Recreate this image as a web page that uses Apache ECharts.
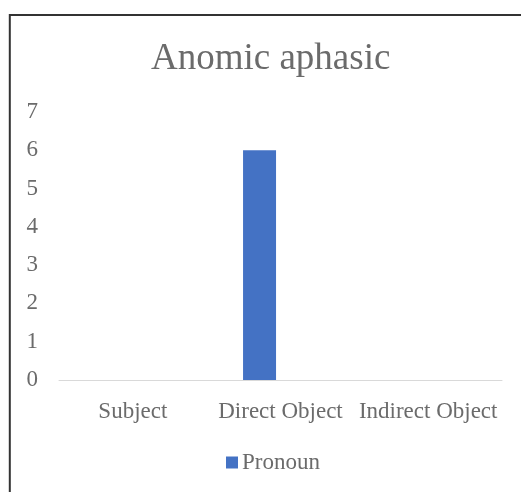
<!DOCTYPE html>
<html>
<head>
<meta charset="utf-8">
<script src="https://cdn.jsdelivr.net/npm/echarts@6/dist/echarts.min.js"></script>
<style>
  html, body { margin: 0; padding: 0; background: #fff; }
  #chart { width: 521px; height: 492px; }
</style>
</head>
<body>
<div id="chart"></div>
<script>
// data
var categories = ['Subject', 'Direct Object', 'Indirect Object'];
var pronoun = [0, 6, 0];
// the original reserves room for a second (empty) series in each category
var emptySeries = [null, null, null];
var yTicks = [0, 1, 2, 3, 4, 5, 6, 7];

var font = 'Liberation Serif';
var textColor = '#6b6b6b';

var chart = echarts.init(document.getElementById('chart'));

var option = {
  animation: false,
  backgroundColor: '#fff',
  graphic: [{
    type: 'rect',
    shape: { x: 9.8, y: 15, width: 1000, height: 1000 },
    style: { fill: 'none', stroke: '#333', lineWidth: 2 },
    silent: true
  }],
  title: {
    text: 'Anomic aphasic',
    left: 146,
    top: 36,
    textStyle: { fontFamily: font, fontSize: 37, fontWeight: 'normal', color: textColor }
  },
  legend: {
    data: ['Pronoun'],
    bottom: 13,
    left: 221,
    itemWidth: 12,
    itemHeight: 12,
    itemGap: 10,
    icon: 'rect',
    textStyle: { fontFamily: font, fontSize: 23, color: textColor, padding: [0, 0, 0, -1] }
  },
  grid: { left: 59, right: 19, top: 112, bottom: 112, containLabel: false },
  xAxis: {
    type: 'category',
    data: categories,
    axisLine: { lineStyle: { color: '#d9d9d9', width: 1 } },
    axisTick: { show: false },
    axisLabel: { fontFamily: font, fontSize: 23, color: textColor, margin: 20, interval: 0 }
  },
  yAxis: {
    type: 'value',
    min: yTicks[0],
    max: yTicks[yTicks.length - 1],
    interval: 1,
    splitLine: { show: false },
    axisLine: { show: false },
    axisTick: { show: false },
    axisLabel: { fontFamily: font, fontSize: 23, color: textColor, margin: 21 }
  },
  series: [
    {
      name: 'Pronoun',
      type: 'bar',
      data: pronoun,
      barWidth: 33,
      barGap: '27%',
      itemStyle: { color: '#4472C4' }
    },
    {
      name: 'empty',
      type: 'bar',
      data: emptySeries,
      barWidth: 33,
      itemStyle: { color: '#ED7D31' }
    }
  ]
};

chart.setOption(option);
</script>
</body>
</html>
